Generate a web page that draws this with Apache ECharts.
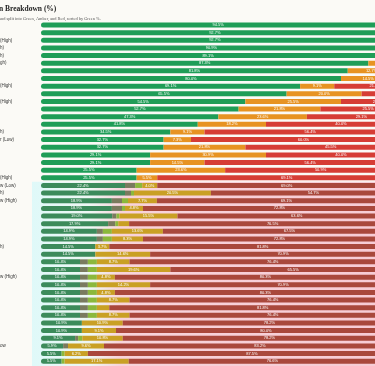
<!DOCTYPE html>
<html>
<head>
<meta charset="utf-8">
<script src="https://cdn.jsdelivr.net/npm/echarts@6/dist/echarts.min.js"></script>
<style>
html,body{margin:0;padding:0;background:#fbfaf6;}
#chart{width:375px;height:366px;}
</style>
</head>
<body>
<div id="chart"></div>
<script>
// Visible (cropped) category label fragments, top to bottom
const categories = [
  "", "", "(High)", "h)", "h)", "gh)", "", "", "(High)", "",
  "(High)", "", "", "", "h)", "r (Low)", "", "", "", "",
  "(High)", "w (Low)", "h)", "w (High)", "", "", "", "", "", "h)",
  "", "", "", "w (High)", "", "", "", "", "", "",
  "", "", "ow", "", ""
];
// Segment shares (%) per row
const greenVals = [
  94.5, 92.7, 92.7, 90.9, 89.1, 87.3, 81.8, 80.0, 69.1, 65.5,
  54.5, 52.7, 47.3, 41.8, 34.5, 32.7, 32.7, 29.1, 29.1, 25.5,
  25.5, 22.4, 22.4, 18.9, 18.9, 19.0, 17.9, 14.9, 14.9, 14.5,
  14.5, 10.4, 10.4, 10.4, 10.4, 10.4, 10.4, 10.4, 10.4, 10.9,
  10.9, 9.1, 5.9, 5.5, 5.5
];
const greyVals = [
  0, 0, 0, 0, 0, 0, 0, 0, 0, 0,
  0, 0, 0, 0, 0, 0, 0, 0, 0, 0,
  0, 2.7, 1.6, 2.7, 2.7, 1.1, 1.9, 1.6, 1.6, 0,
  0, 2.1, 2.1, 2.1, 2.1, 2.1, 2.1, 2.1, 2.1, 0,
  0, 0.8, 1.3, 0, 0
];
const limeVals = [
  0, 0, 0, 0, 0, 0, 0, 0, 0, 0,
  0, 0, 0, 0, 0, 0, 0, 0, 0, 0,
  0, 1.9, 0.8, 1.6, 0.8, 0.8, 0.8, 2.4, 2.4, 0,
  0, 2.4, 2.4, 2.4, 2.4, 2.4, 2.4, 2.4, 2.4, 0,
  0, 1.1, 0, 0.8, 0.8
];
const amberVals = [
  5.5, 7.3, 7.3, 9.1, 10.9, 12.7, 12.7, 14.5, 9.1, 20.0,
  25.5, 21.8, 23.6, 18.2, 9.1, 7.3, 21.8, 30.9, 14.5, 23.6,
  5.5, 4.0, 20.5, 7.7, 4.8, 15.5, 2.9, 13.6, 8.3, 3.7,
  14.6, 8.7, 19.6, 4.8, 14.2, 4.8, 8.7, 3.3, 8.7, 10.9,
  9.1, 10.8, 9.6, 6.2, 17.1
];
const redVals = [
  0, 0, 0, 0, 0, 0, 5.5, 5.5, 21.8, 14.5,
  20.0, 25.5, 29.1, 40.0, 56.4, 60.0, 45.5, 40.0, 56.4, 50.9,
  69.1, 69.0, 54.7, 69.1, 72.8, 63.6, 76.5, 67.5, 72.8, 81.8,
  70.9, 76.4, 65.5, 80.3, 70.9, 80.3, 76.4, 81.8, 76.4, 78.2,
  80.0, 78.2, 83.2, 87.5, 76.6
];

const SPLIT = 21; // rows from this index drawn in the tinted block
const bright = {green:'#1f9d57', amber:'#e79322', red:'#d63d35'};
const muted  = {green:'#3c8b5b', grey:'#7a7a5e', lime:'#8bb83c', amber:'#c9a024', red:'#a9483c'};

const chart = echarts.init(document.getElementById('chart'));

function labelCfg(){
  return {
    show: true, position: 'inside', color: '#ffffff', fontSize: 4,
    fontFamily: 'Liberation Sans',
    formatter: p => (p.value >= 3.5 ? p.value.toFixed(1) + '%' : '')
  };
}
function mk(name, vals, colorFn, radius, withLabel){
  return {
    name, type: 'bar', stack: 'total', data: vals, barWidth: 5,
    itemStyle: { color: colorFn, borderRadius: radius },
    label: withLabel ? labelCfg() : {show:false},
    emphasis: {disabled: true},
    animation: false
  };
}

chart.setOption({
  backgroundColor: '#fbfaf6',
  animation: false,
  title: {
    text: 'n Breakdown (%)',
    subtext: 'and split into Green, Amber, and Red, sorted by Green %.',
    left: -1, top: 5, padding: 0, itemGap: 4,
    textStyle: {fontFamily: 'Liberation Serif', fontWeight: 'bold', fontSize: 7.5, color: '#222'},
    subtextStyle: {fontFamily: 'Liberation Serif', fontSize: 4.4, color: '#555'}
  },
  grid: {left: 41, width: 375, top: 21.2, height: 343.8, containLabel: false, outerBoundsMode: 'none'},
  xAxis: {type: 'value', min: 0, max: 100, show: false},
  yAxis: {
    type: 'category', data: categories, inverse: true,
    axisLine: {show: false}, axisTick: {show: false},
    axisLabel: {interval: 0, align: 'left', margin: 41, fontSize: 4.5, color: '#333', fontFamily: 'Liberation Sans'}
  },
  series: [
    mk('Green', greenVals, p => p.dataIndex >= SPLIT ? muted.green : bright.green, [3,0,0,3], true),
    mk('Green (shade)', greyVals, muted.grey, 0, false),
    mk('Amber (tint)', limeVals, muted.lime, 0, false),
    mk('Amber', amberVals, p => p.dataIndex >= SPLIT ? muted.amber : bright.amber, 0, true),
    mk('Red', redVals, p => p.dataIndex >= SPLIT ? muted.red : bright.red, [0,3,3,0], true)
  ]
});

// tinted background block behind the lower rows, placed via the axes
const y0 = chart.convertToPixel({yAxisIndex: 0}, 0);
const y1 = chart.convertToPixel({yAxisIndex: 0}, 1);
const band = Math.abs(y1 - y0);
const topY = chart.convertToPixel({yAxisIndex: 0}, SPLIT) - band / 2;
const x0 = chart.convertToPixel({xAxisIndex: 0}, 0);
chart.setOption({
  graphic: [{
    type: 'rect', z: 0, silent: true,
    shape: {x: x0 - 9, y: topY, width: 375 - (x0 - 9), height: 366 - topY},
    style: {
      fill: new echarts.graphic.LinearGradient(0, 0, 1, 0, [
        {offset: 0, color: '#dff9f9'},
        {offset: 0.17, color: '#eef7f3'},
        {offset: 0.26, color: '#f8d3da'},
        {offset: 1, color: '#f7ccd5'}
      ])
    }
  }]
});
</script>
</body>
</html>
